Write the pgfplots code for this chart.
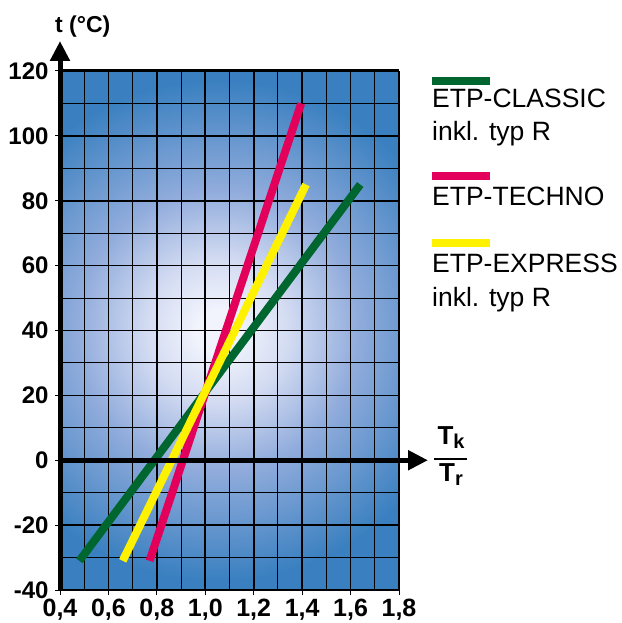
\documentclass[border=0pt]{standalone}
\usepackage{pgfplots}
\pgfplotsset{compat=1.18}
\usepackage{fontspec}
\setmainfont{Liberation Sans}
\usetikzlibrary{arrows.meta}
\definecolor{bgin}{RGB}{242,244,253}
\definecolor{bglight}{RGB}{212,220,242}
\definecolor{bgmid}{RGB}{145,172,220}
\definecolor{bgout}{RGB}{58,128,192}
\definecolor{cgreen}{RGB}{0,102,48}
\definecolor{cred}{RGB}{226,0,90}
\definecolor{cyellow}{RGB}{255,242,0}
\pgfdeclareradialshading{bgshade}{\pgfpoint{0bp}{0bp}}{color(0bp)=(bgin); color(2bp)=(bgin); color(7bp)=(bglight); color(14bp)=(bgmid); color(25bp)=(bgout); color(50bp)=(bgout)}
\begin{document}
\begin{tikzpicture}
\begin{axis}[
  set layers,
  at={(0pt,0pt)}, anchor=south west,
  scale only axis, width=339pt, height=519pt,
  xmin=0.4, xmax=1.8, ymin=-40, ymax=120,
  axis line style={draw=none},
  xtick={0.4,0.6,...,1.8},
  xticklabels={{0,4},{0,6},{0,8},{1,0},{1,2},{1,4},{1,6},{1,8}},
  ytick={-40,-20,...,120},
  yticklabels={-40,-20,0,20,40,60,80,100,120},
  minor x tick num=1, minor y tick num=1,
  grid=both,
  major grid style={black, line width=1.6pt},
  minor grid style={black, line width=1.1pt},
  tick align=outside, xtick pos=lower, ytick pos=left,
  major tick length=5pt, minor tick length=0pt,
  tick style={black, line width=1pt},
  xticklabel style={font=\bfseries\fontsize{25}{25}\selectfont, yshift=-1pt},
  yticklabel style={font=\bfseries\fontsize{24}{24}\selectfont, xshift=-3pt},
  clip=false,
]
\begin{pgfonlayer}{axis background}
\begin{scope}
\clip (rel axis cs:0,0) rectangle (rel axis cs:1,1);
\fill[bgout] (rel axis cs:0,0) rectangle (rel axis cs:1,1);
\shade[shading=bgshade] (axis cs:1.05,40) circle[radius=250pt];
\end{scope}
\end{pgfonlayer}
\addplot[cgreen, line width=8pt] coordinates {(0.48,-31) (1.64,85)};
\addplot[cred, line width=8pt] coordinates {(0.77,-31) (1.396,110)};
\addplot[cyellow, line width=8pt] coordinates {(0.659,-31) (1.416,85)};
\draw[black, line width=3pt] (rel axis cs:0,1) -- (rel axis cs:1,1);
\draw[black, line width=2.5pt] (rel axis cs:1,0) -- (rel axis cs:1,1);
\draw[black, line width=1pt] (rel axis cs:0,0) -- (rel axis cs:1,0);
\draw[black, line width=5pt, -{Triangle[width=19pt,length=20pt]}] (axis cs:0.4,0) -- ([xshift=29pt]rel axis cs:1,0.25);
\draw[black, line width=5pt, -{Triangle[width=19pt,length=20pt]}] ([yshift=-1pt]rel axis cs:0,0) -- ([yshift=30pt]rel axis cs:0,1);
\end{axis}
% y label
\node[anchor=base west, inner sep=0pt, font=\bfseries\fontsize{23}{23}\selectfont] at (-5pt,557pt) {t (°C)};
% x label fraction
\node[anchor=base, inner sep=0pt, font=\bfseries\fontsize{26}{26}\selectfont] at (391pt,145pt) {T\raisebox{-0.28ex}{\fontsize{20}{20}\selectfont k}};
\draw[black, line width=1.6pt] (374pt,131pt) -- (407pt,131pt);
\node[anchor=base, inner sep=0pt, font=\bfseries\fontsize{26}{26}\selectfont] at (391pt,108pt) {T\raisebox{-0.28ex}{\fontsize{20}{20}\selectfont r}};
% legend
\fill[cgreen] (372pt,505pt) rectangle (430pt,513pt);
\node[anchor=base west, inner sep=0pt, font=\fontsize{26.5}{26.5}\selectfont] at (372pt,482pt) {ETP-CLASSIC};
\node[anchor=base west, inner sep=0pt, font=\fontsize{26.5}{26.5}\selectfont] at (372pt,449pt) {inkl. typ R};
\fill[cred] (372pt,410pt) rectangle (430pt,418pt);
\node[anchor=base west, inner sep=0pt, font=\fontsize{26.5}{26.5}\selectfont] at (372pt,384pt) {ETP-TECHNO};
\fill[cyellow] (372pt,343pt) rectangle (430pt,351pt);
\node[anchor=base west, inner sep=0pt, font=\fontsize{26.5}{26.5}\selectfont] at (372pt,317pt) {ETP-EXPRESS};
\node[anchor=base west, inner sep=0pt, font=\fontsize{26.5}{26.5}\selectfont] at (372pt,283pt) {inkl. typ R};
\pgfresetboundingbox
\path (-60pt,-33pt) rectangle (561pt,590pt);
\end{tikzpicture}
\end{document}
